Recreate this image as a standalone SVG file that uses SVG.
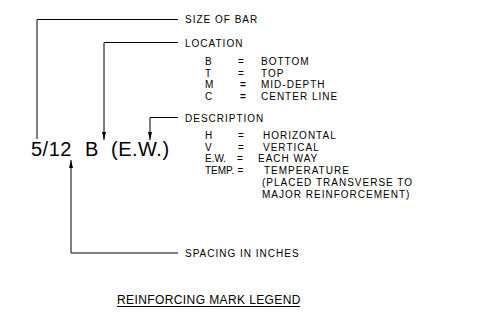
<svg xmlns="http://www.w3.org/2000/svg" width="486" height="323" viewBox="0 0 486 323">
<style>
  text { font-family: "Liberation Sans", Arial, sans-serif; fill: #000; }
  .s { font-size: 10px; letter-spacing: 1px; }
  .c { font-size: 10px; letter-spacing: 0px; }
  .eq { font-size: 10px; }
  .eqb { font-size: 10px; font-weight: bold; }
  .big { font-size: 20px; letter-spacing: 0.5px; }
  .title { font-size: 12px; letter-spacing: 0.4px; }
  .wire { fill: none; stroke: #000; stroke-width: 1; }
</style>
<defs>
  <marker id="arr" viewBox="0 0 8 4" refX="8" refY="2" markerWidth="8" markerHeight="4" markerUnits="userSpaceOnUse" orient="auto">
    <path d="M0,0 L8,2 L0,4 Z" fill="#000"/>
  </marker>
</defs>
<rect width="486" height="323" fill="#fff"/>

<g id="connectors">
  <path class="wire" d="M178,19.5 H37 V139"/>
  <path class="wire" d="M178,42.5 H104 V140" marker-end="url(#arr)"/>
  <path class="wire" d="M178,117.5 H150 V140" marker-end="url(#arr)"/>
  <path class="wire" d="M178,253 H71 V160" marker-end="url(#arr)"/>
</g>

<g id="mark">
  <text class="big" y="156"><tspan x="31">5/12 </tspan><tspan x="85">B </tspan><tspan x="111">(E.W.)</tspan></text>
</g>

<g id="size-of-bar">
  <text class="s" x="185" y="23">SIZE OF BAR</text>
</g>

<g id="location">
  <text class="s" x="185" y="47">LOCATION</text>
  <text class="c" x="205" y="65">B</text>
  <text class="eq" x="238" y="65">=</text>
  <text class="s" x="261" y="65">BOTTOM</text>
  <text class="c" x="205" y="76.5">T</text>
  <text class="eq" x="238" y="76.5">=</text>
  <text class="s" x="261" y="76.5">TOP</text>
  <text class="c" x="205" y="88">M</text>
  <text class="eqb" x="240" y="88">=</text>
  <text class="s" x="261" y="88">MID-DEPTH</text>
  <text class="c" x="205" y="99.5">C</text>
  <text class="eqb" x="240" y="99.5">=</text>
  <text class="s" x="261" y="99.5">CENTER LINE</text>
</g>

<g id="description">
  <text class="s" x="185" y="121.5">DESCRIPTION</text>
  <text class="c" x="205" y="139">H</text>
  <text class="eq" x="238" y="139">=</text>
  <text class="s" x="263" y="139">HORIZONTAL</text>
  <text class="c" x="205" y="150.5">V</text>
  <text class="eq" x="238" y="150.5">=</text>
  <text class="s" x="263" y="150.5">VERTICAL</text>
  <text class="c" x="205" y="162">E.W.</text>
  <text class="eq" x="237" y="162">=</text>
  <text class="s" x="258" y="162">EACH WAY</text>
  <text class="c" x="205" y="174">TEMP.</text>
  <text class="eq" x="237.5" y="174">=</text>
  <text class="s" x="264" y="174">TEMPERATURE</text>
  <text class="s" x="262" y="186">(PLACED TRANSVERSE TO</text>
  <text class="s" x="262" y="198">MAJOR REINFORCEMENT)</text>
</g>

<g id="spacing">
  <text class="s" x="185" y="257">SPACING IN INCHES</text>
</g>

<g id="legend-title">
  <text class="title" x="117" y="304">REINFORCING MARK LEGEND</text>
  <line class="wire" x1="117" y1="306.5" x2="300" y2="306.5"/>
</g>
</svg>
